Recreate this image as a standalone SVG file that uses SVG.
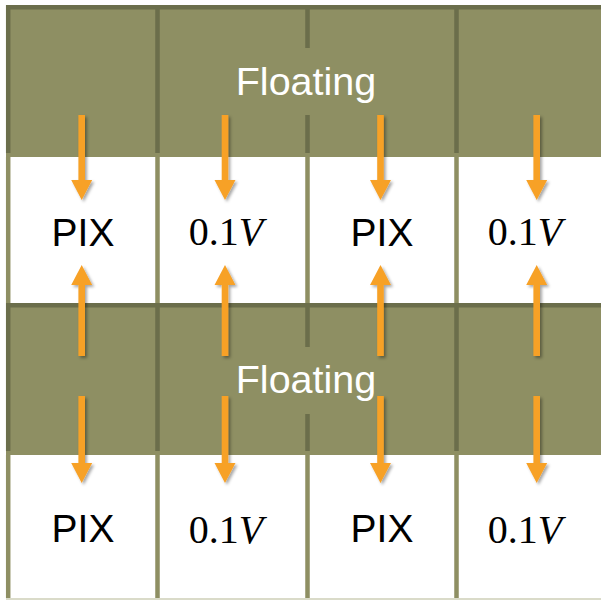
<svg xmlns="http://www.w3.org/2000/svg" width="601" height="601" viewBox="0 0 601 601">
  <style>
    .band { fill: #8e8f63; }
    .rule-dark { stroke: #6b6e4b; stroke-width: 4.5; fill: none; }
    .rule-light { stroke: #8e8f63; stroke-width: 4.5; fill: none; }
    .label-box { fill: #8e8f63; }
    .float { font-family: "Liberation Sans", Arial, sans-serif; font-size: 39.5px; fill: #ffffff; text-anchor: middle; }
    .pix { font-family: "Liberation Sans", Arial, sans-serif; font-size: 39px; fill: #000000; text-anchor: middle; }
    .volt { font-family: "Liberation Serif", "Times New Roman", serif; font-size: 40px; fill: #000000; text-anchor: middle; }
    .arrow { fill: #f7a128; }
  </style>
  <defs>
    <filter id="shadow" x="-50%" y="-20%" width="200%" height="140%">
      <feDropShadow dx="2" dy="2" stdDeviation="1.5" flood-color="#000000" flood-opacity="0.35"/>
    </filter>
    <!-- down-pointing arrow, tip at origin, shaft length set per use -->
    <path id="down" d="M-3.3,-85 H3.3 V-20 H10.5 L0,0 L-10.5,-20 H-3.3 Z"/>
    <path id="down2" d="M-3.3,-87 H3.3 V-20 H10.5 L0,0 L-10.5,-20 H-3.3 Z"/>
    <path id="up" d="M-3.3,91 H3.3 V20 H10.5 L0,0 L-10.5,20 H-3.3 Z"/>
  </defs>

  <rect width="601" height="601" fill="#ffffff"/>

  <!-- grid -->
  <g id="grid">
    <rect class="band" x="6" y="5" width="595" height="152"/>
    <rect class="band" x="6" y="303" width="595" height="152"/>
    <!-- column rules in the white rows -->
    <path class="rule-light" d="M8.2,157 V303 M157.5,157 V303 M307.5,157 V303 M456.5,157 V303"/>
    <path class="rule-light" d="M8.2,455 V598 M157.5,455 V598 M307.5,455 V598 M456.5,455 V598"/>
    <!-- rules in the shaded rows -->
    <path class="rule-dark" d="M6,7.3 H601 M8.2,5 V153 M157.5,5 V153 M307.5,5 V153 M456.5,5 V153"/>
    <path class="rule-dark" d="M6,305.3 H601 M8.2,303 V451 M157.5,303 V451 M307.5,303 V451 M456.5,303 V451"/>
    <line x1="6" y1="599" x2="601" y2="599" stroke="#dadbc9" stroke-width="2"/>
  </g>

  <!-- shaded-row labels -->
  <g id="floating-top">
    <rect class="label-box" x="200" y="48" width="220" height="67"/>
    <text class="float" x="306" y="95">Floating</text>
  </g>
  <g id="floating-bottom">
    <rect class="label-box" x="200" y="347" width="220" height="67"/>
    <text class="float" x="306" y="393">Floating</text>
  </g>

  <!-- cell labels -->
  <g id="cell-r1c1"><text class="pix" x="83" y="245.5">PIX</text></g>
  <g id="cell-r1c2"><text class="volt" x="226" y="245">0.1<tspan font-style="italic">V</tspan></text></g>
  <g id="cell-r1c3"><text class="pix" x="382" y="245.5">PIX</text></g>
  <g id="cell-r1c4"><text class="volt" x="525" y="245">0.1<tspan font-style="italic">V</tspan></text></g>
  <g id="cell-r2c1"><text class="pix" x="83" y="541.5">PIX</text></g>
  <g id="cell-r2c2"><text class="volt" x="226" y="543">0.1<tspan font-style="italic">V</tspan></text></g>
  <g id="cell-r2c3"><text class="pix" x="382" y="541.5">PIX</text></g>
  <g id="cell-r2c4"><text class="volt" x="525" y="543">0.1<tspan font-style="italic">V</tspan></text></g>

  <!-- arrows -->
  <g id="connectors" class="arrow" filter="url(#shadow)">
    <use href="#down" x="81.7" y="200"/>
    <use href="#down" x="225" y="200"/>
    <use href="#down" x="380.5" y="200"/>
    <use href="#down" x="536.7" y="200"/>

    <use href="#up" x="81.7" y="265"/>
    <use href="#up" x="225" y="265"/>
    <use href="#up" x="380.5" y="265"/>
    <use href="#up" x="536.7" y="265"/>

    <use href="#down2" x="81.7" y="483"/>
    <use href="#down2" x="225" y="483"/>
    <use href="#down2" x="380.5" y="483"/>
    <use href="#down2" x="536.7" y="483"/>
  </g>
</svg>
